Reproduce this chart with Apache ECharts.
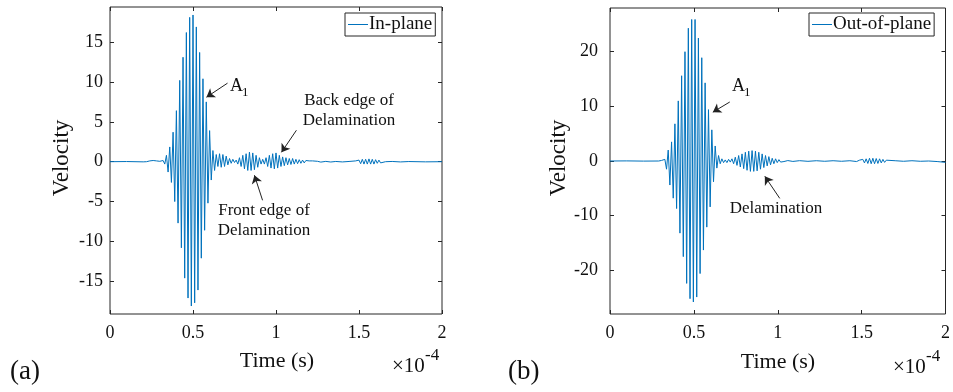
<!DOCTYPE html>
<html><head><meta charset="utf-8">
<script src="https://cdn.jsdelivr.net/npm/echarts@6/dist/echarts.min.js"></script>
<style>html,body{margin:0;padding:0;background:#fff}#c{width:953px;height:392px}</style>
</head><body><div id="c"></div>
<script>
// ---- data (time in units of 1e-4 s) ----
const xTicks = [0, 0.5, 1, 1.5, 2];
const inPlaneTicks = [-15, -10, -5, 0, 5, 10, 15];
const outPlaneTicks = [-20, -10, 0, 10, 20];

const inPlaneT = [0,0.10,0.20,0.22,0.23,0.24,0.25,0.26,0.27,0.28,0.29,0.30,0.31,0.32,0.33,
 0.34,0.35,0.36,0.37,0.38,0.39,0.40,0.41,0.42,0.43,0.44,0.45,0.46,0.47,0.48,0.49,0.50,0.51,0.52,0.53,0.54,0.55,0.56,0.57,0.58,0.59,0.60,0.61,0.62,0.63,
 0.64,0.65,0.66,0.67,0.68,0.69,0.70,0.71,0.72,0.73,0.74,0.75,0.76,0.77,0.78,0.79,0.80,0.81,0.82,0.83,0.84,0.85,0.86,0.87,0.88,0.89,0.90,0.91,0.92,0.93,
 0.94,0.95,0.96,0.97,0.98,0.99,1.00,1.01,1.02,1.03,1.04,1.05,1.06,1.07,1.08,1.09,1.10,1.11,1.12,1.13,1.14,1.15,1.16,1.17,1.18,1.19,1.20,1.21,1.22,1.23,
 1.25,1.27,1.30,1.33,1.36,1.40,1.44,
 1.48,1.49,1.50,1.51,1.52,1.53,1.54,1.55,1.56,1.57,1.58,1.59,1.60,1.61,1.62,1.63,1.64,
 1.66,1.70,1.75,1.80,1.90,2.00];
const inPlaneV = [0,0.02,-0.02,0,-0.1,0.1,-0.15,0.15,-0.1,0.1,-0.05,0.05,-0.1,0.15,-0.3,
 0.8,-1.3,1.85,-2.6,3.7,-5.0,6.4,-7.7,10.2,-10.8,13.1,-14.6,16.2,-17.1,18.1,-18.1,18.4,-17.7,16.9,-16.1,13.7,-12.1,10.4,-8.6,7.5,-5.2,3.9,-2.3,1.4,-1.1,
 0.9,-0.6,1.0,-0.7,0.9,-0.6,0.7,-0.4,0.4,-0.2,0.3,-0.1,0.2,-0.3,0.5,-0.6,0.8,-0.9,1.0,-1.1,1.2,-1.1,1.1,-1.0,0.8,-0.7,0.5,-0.3,0.3,-0.3,
 0.5,-0.6,0.8,-0.8,1.0,-0.9,1.1,-0.8,0.8,-0.6,0.6,-0.5,0.5,-0.4,0.4,-0.35,0.4,-0.3,0.3,-0.25,0.25,-0.2,0.2,-0.15,0.15,-0.1,0.1,-0.1,0.1,-0.05,
 0.05,-0.05,0.04,-0.04,0.03,-0.03,0.03,
 0.1,-0.15,0.2,-0.25,0.3,-0.3,0.3,-0.3,0.35,-0.3,0.3,-0.3,0.25,-0.2,0.2,-0.15,0.1,
 0,0.03,-0.03,0.02,-0.02,0];

const outPlaneT = [0,0.10,0.20,0.29,0.307,0.317,0.327,
 0.337,0.347,0.357,0.367,0.377,0.387,0.397,0.407,0.417,0.427,0.437,0.447,0.457,0.467,0.477,0.487,0.497,0.507,0.517,0.527,0.537,0.547,0.557,0.567,0.577,0.587,0.597,0.607,0.617,0.627,0.637,0.647,
 0.657,0.667,0.677,0.687,0.697,0.707,0.717,0.727,0.737,0.747,0.757,0.767,0.777,0.787,0.797,0.807,0.817,0.827,0.837,0.847,0.857,0.867,0.877,0.887,0.897,0.907,0.917,0.927,0.937,0.947,0.957,0.967,0.977,0.987,0.997,1.007,1.017,1.027,1.037,
 1.06,1.09,1.13,1.18,1.23,1.28,1.33,1.38,1.43,1.47,
 1.487,1.497,1.507,1.517,1.527,1.537,1.547,1.557,1.567,1.577,1.587,1.597,1.607,1.617,1.627,1.637,1.647,1.657,
 1.70,1.75,1.80,1.85,1.90,1.95,2.00];
const outPlaneV = [0,0.02,-0.02,0,0.1,-0.1,0.3,
 -1.5,2.0,-4.4,3.5,-6.8,6.8,-8.7,11.0,-13.2,15.6,-17.5,20.0,-22.4,24.3,-25.2,25.9,-25.8,25.9,-24.9,22.5,-20.6,18.9,-16.3,14.3,-12.1,9.4,-8.4,5.7,-3.8,2.75,-1.3,1.0,
 -0.5,0.4,-0.3,0.2,-0.3,0.3,-0.2,0.4,-0.5,0.7,-0.8,1.0,-1.1,1.3,-1.4,1.6,-1.7,1.8,-1.9,1.9,-1.9,1.8,-1.8,1.6,-1.5,1.3,-1.2,1.0,-0.9,0.8,-0.7,0.5,-0.5,0.4,-0.3,0.25,-0.2,0.15,-0.1,
 0.08,-0.08,0.06,-0.06,0.05,-0.05,0.05,-0.05,0.05,-0.1,
 0.15,-0.2,0.3,-0.35,0.4,-0.45,0.5,-0.5,0.5,-0.5,0.45,-0.45,0.4,-0.35,0.3,-0.25,0.15,-0.1,
 0.05,-0.05,0.05,-0.05,0,-0.1,-0.25];

// annotation arrows: [fromT, fromV, toT, toV]
const inPlaneArrows = [[0.708, 9.85, 0.581, 8.09], [1.123, 3.94, 1.033, 1.18], [0.919, -4.84, 0.870, -1.70]];
const outPlaneArrows = [[0.714, 10.8, 0.613, 8.94], [1.012, -6.84, 0.923, -2.80]];

// ---- chart ----
const FF = '"Liberation Serif","Times New Roman",serif';
const AX = '#262626';
const LINE = '#0072BD';

function pairs(T, V) { return T.map((t, i) => [t, V[i]]); }
function arrows(list) { return list.map(a => [{coord: [a[0], a[1]]}, {coord: [a[2], a[3]]}]); }

function axes(gi, yMin, yMax, yTicks, labelMargin) {
  const tick = {show: true, inside: true, length: 4, lineStyle: {color: AX, width: 1}};
  const line = {show: false, onZero: false};
  const xs = [
    {gridIndex: gi, type: 'value', min: 0, max: 2, interval: 0.5, position: 'bottom',
     axisLine: line, axisTick: tick, splitLine: {show: false},
     axisLabel: {margin: 10, fontSize: 18, fontFamily: FF, color: '#111', customValues: xTicks}},
    {gridIndex: gi, type: 'value', min: 0, max: 2, interval: 0.5, position: 'top',
     axisLine: line, axisTick: tick, splitLine: {show: false}, axisLabel: {show: false}}
  ];
  const ys = [
    {gridIndex: gi, type: 'value', min: yMin, max: yMax, position: 'left',
     axisLine: line, splitLine: {show: false},
     axisTick: Object.assign({customValues: yTicks}, tick),
     axisLabel: {customValues: yTicks, margin: labelMargin, fontSize: 18, fontFamily: FF, color: '#111'}},
    {gridIndex: gi, type: 'value', min: yMin, max: yMax, position: 'right',
     axisLine: line, splitLine: {show: false},
     axisTick: Object.assign({customValues: yTicks}, tick),
     axisLabel: {show: false}}
  ];
  return {xs, ys};
}
const a0 = axes(0, -19.1, 19.4, inPlaneTicks, 7);
const a1 = axes(1, -28, 28, outPlaneTicks, 12);

const markArrow = list => ({
  silent: true, animation: false, symbol: ['none', 'arrow'], symbolSize: 8,
  lineStyle: {color: '#222', width: 1, type: 'solid'}, label: {show: false},
  emphasis: {disabled: true}, data: arrows(list)
});

function txt(x, y, s, size, opts) {
  return Object.assign({type: 'text', x, y, silent: true,
    style: Object.assign({text: s, font: size + 'px ' + FF, fill: '#111', align: 'center', verticalAlign: 'middle'}, opts || {})});
}

const legendBase = {
  orient: 'horizontal', top: 13, padding: [2, 3, 2, 3], itemWidth: 20, itemHeight: 1, icon: 'rect',
  borderColor: AX, borderWidth: 1, backgroundColor: '#fff', borderRadius: 0,
  itemStyle: {color: LINE},
  textStyle: {fontSize: 19, fontFamily: FF, color: '#111', padding: [0, 0, 0, -4]},
  selectedMode: false
};

const option = {
  animation: false,
  backgroundColor: '#fff',
  grid: [
    {left: 110, top: 7, width: 332, height: 307, show: true, borderColor: AX, borderWidth: 1, backgroundColor: 'transparent'},
    {left: 610, top: 8, width: 336, height: 306, show: true, borderColor: AX, borderWidth: 1, backgroundColor: 'transparent'}
  ],
  xAxis: a0.xs.concat(a1.xs),
  yAxis: a0.ys.concat(a1.ys),
  legend: [
    Object.assign({data: ['In-plane'], left: 345}, legendBase),
    Object.assign({data: ['Out-of-plane'], left: 809}, legendBase)
  ],
  series: [
    {name: 'In-plane', type: 'line', xAxisIndex: 0, yAxisIndex: 0, symbol: 'none', showSymbol: false,
     lineStyle: {color: LINE, width: 1}, itemStyle: {color: LINE}, data: pairs(inPlaneT, inPlaneV),
     markLine: markArrow(inPlaneArrows)},
    {name: 'Out-of-plane', type: 'line', xAxisIndex: 2, yAxisIndex: 2, symbol: 'none', showSymbol: false,
     lineStyle: {color: LINE, width: 1}, itemStyle: {color: LINE}, data: pairs(outPlaneT, outPlaneV),
     markLine: markArrow(outPlaneArrows)}
  ],
  graphic: [
    txt(62, 158, 'Velocity', 23, {}),
    txt(559, 158, 'Velocity', 23, {}),
    txt(277, 361, 'Time (s)', 22),
    txt(778, 362, 'Time (s)', 22),
    txt(392, 366, '×10', 21, {align: 'left'}),
    txt(425, 356, '-4', 17, {align: 'left'}),
    txt(893, 367, '×10', 21, {align: 'left'}),
    txt(926, 357, '-4', 17, {align: 'left'}),
    txt(10, 372, '(a)', 27, {align: 'left'}),
    txt(508, 372, '(b)', 27, {align: 'left'}),
    txt(230, 86, 'A', 18, {align: 'left'}),
    txt(242, 93, '1', 13, {align: 'left'}),
    txt(349, 101, 'Back edge of', 17),
    txt(349, 121, 'Delamination', 17),
    txt(264, 211, 'Front edge of', 17),
    txt(264, 231, 'Delamination', 17),
    txt(732, 86, 'A', 18, {align: 'left'}),
    txt(744, 93, '1', 13, {align: 'left'}),
    txt(776, 209, 'Delamination', 17)
  ].map((g, i) => (i < 2 ? Object.assign(g, {rotation: Math.PI / 2}) : g))
};

const chart = echarts.init(document.getElementById('c'), null, {renderer: 'canvas'});
chart.setOption(option);
</script>
</body></html>
